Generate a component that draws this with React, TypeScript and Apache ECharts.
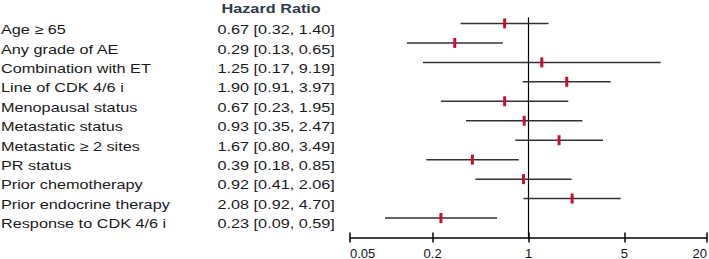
import React, { useEffect, useRef } from "react";
import * as echarts from "echarts";

const labels = [
  "Age ≥ 65",
  "Any grade of AE",
  "Combination with ET",
  "Line of CDK 4/6 i",
  "Menopausal status",
  "Metastatic status",
  "Metastatic ≥ 2 sites",
  "PR status",
  "Prior chemotherapy",
  "Prior endocrine therapy",
  "Response to CDK 4/6 i",
];
const hr = [0.67, 0.29, 1.25, 1.9, 0.67, 0.93, 1.67, 0.39, 0.92, 2.08, 0.23];
const lower = [0.32, 0.13, 0.17, 0.91, 0.23, 0.35, 0.8, 0.18, 0.41, 0.92, 0.09];
const upper = [1.4, 0.65, 9.19, 3.97, 1.95, 2.47, 3.49, 0.85, 2.06, 4.7, 0.59];
const tickValues = [0.05, 0.2, 1, 5, 20];
const headerText = "Hazard Ratio";

const FONT = "'Liberation Sans', Arial, sans-serif";
const STRETCH = 1.25;

export default function App() {
  const ref = useRef<HTMLDivElement>(null);

  useEffect(() => {
    if (!ref.current) return;
    const chart = echarts.init(ref.current, undefined, { renderer: "svg" });

    const rows = labels.map((_, i) => ({
      value: [hr[i], i + 1, lower[i], upper[i]],
    }));

    const textRowY = (i: number) => 30 + i * 19.35;

    const graphics: any[] = [
      {
        type: "text",
        x: 221.5,
        y: 8.5,
        scaleX: STRETCH,
        style: {
          text: headerText,
          fontFamily: FONT,
          fontSize: 13,
          fontWeight: "bold",
          fill: "#2e3a4d",
          verticalAlign: "middle",
          align: "left",
        },
      },
    ];
    labels.forEach((lab, i) => {
      graphics.push({
        type: "text",
        x: 1,
        y: textRowY(i),
        scaleX: STRETCH,
        style: {
          text: lab,
          fontFamily: FONT,
          fontSize: 13,
          fill: "#1a1a1a",
          verticalAlign: "middle",
          align: "left",
        },
      });
      graphics.push({
        type: "text",
        x: 217.5,
        y: textRowY(i),
        scaleX: STRETCH,
        style: {
          text: `${hr[i].toFixed(2)} [${lower[i].toFixed(2)}, ${upper[i].toFixed(2)}]`,
          fontFamily: FONT,
          fontSize: 13,
          fill: "#1a1a1a",
          verticalAlign: "middle",
          align: "left",
        },
      });
    });

    const fmt = (v: any) => String(+Number(v).toPrecision(6));
    const gridBox = { left: 350, right: 2, top: 4, bottom: 21.5, outerBoundsMode: "none" };

    chart.setOption({
      animation: false,
      backgroundColor: "#ffffff",
      grid: [gridBox, { ...gridBox }],
      xAxis: [
        {
          type: "log",
          gridIndex: 0,
          logBase: 10,
          min: 0.05,
          max: 20,
          position: "bottom",
          axisLine: { show: true, onZero: false, lineStyle: { color: "#000", width: 1.5 } },
          axisTick: {
            show: true,
            length: 5,
            customValues: tickValues,
            lineStyle: { color: "#000", width: 1.5 },
          },
          axisLabel: {
            customValues: tickValues,
            margin: 9,
            fontSize: 13,
            fontFamily: FONT,
            color: "#111",
            formatter: fmt,
            alignMinLabel: "left",
            alignMaxLabel: "right",
          },
          splitLine: { show: false },
          minorTick: { show: false },
        },
        {
          type: "log",
          gridIndex: 1,
          logBase: 10,
          min: 0.05,
          max: 20,
          position: "bottom",
          axisLine: { show: false, onZero: false },
          axisTick: {
            show: true,
            inside: true,
            length: 5,
            customValues: tickValues,
            lineStyle: { color: "#000", width: 1.5 },
          },
          axisLabel: { show: false, customValues: tickValues },
          splitLine: { show: false },
        },
      ],
      yAxis: [
        {
          type: "value",
          gridIndex: 0,
          inverse: true,
          min: 0,
          max: 12,
          show: false,
          splitLine: { show: false },
        },
        {
          type: "value",
          gridIndex: 1,
          inverse: true,
          min: 0,
          max: 12,
          show: false,
          splitLine: { show: false },
        },
      ],
      graphic: graphics,
      series: [
        {
          type: "line",
          xAxisIndex: 0,
          yAxisIndex: 0,
          data: [
            [1, 0.7],
            [1, 12],
          ],
          symbol: "none",
          lineStyle: { color: "#000", width: 1.2 },
          silent: true,
          z: 1,
        },
        {
          type: "custom",
          xAxisIndex: 0,
          yAxisIndex: 0,
          z: 2,
          data: rows,
          encode: { x: [0, 2, 3], y: 1 },
          renderItem: (params: any, api: any) => {
            const row = api.value(1);
            const pLo = api.coord([api.value(2), row]);
            const pHi = api.coord([api.value(3), row]);
            const pMid = api.coord([api.value(0), row]);
            return {
              type: "group",
              children: [
                {
                  type: "line",
                  shape: { x1: pLo[0], y1: pLo[1], x2: pHi[0], y2: pHi[1] },
                  style: { stroke: "#333", lineWidth: 1.5 },
                },
                {
                  type: "rect",
                  shape: { x: pMid[0] - 1.5, y: pMid[1] - 5, width: 3, height: 10 },
                  style: { fill: "#c8102e" },
                },
              ],
            };
          },
        },
      ],
    });

    return () => chart.dispose();
  }, []);

  return (
    <div
      ref={ref}
      style={{ position: "fixed", left: 0, top: 0, width: 709, height: 259, background: "#fff" }}
    />
  );
}
